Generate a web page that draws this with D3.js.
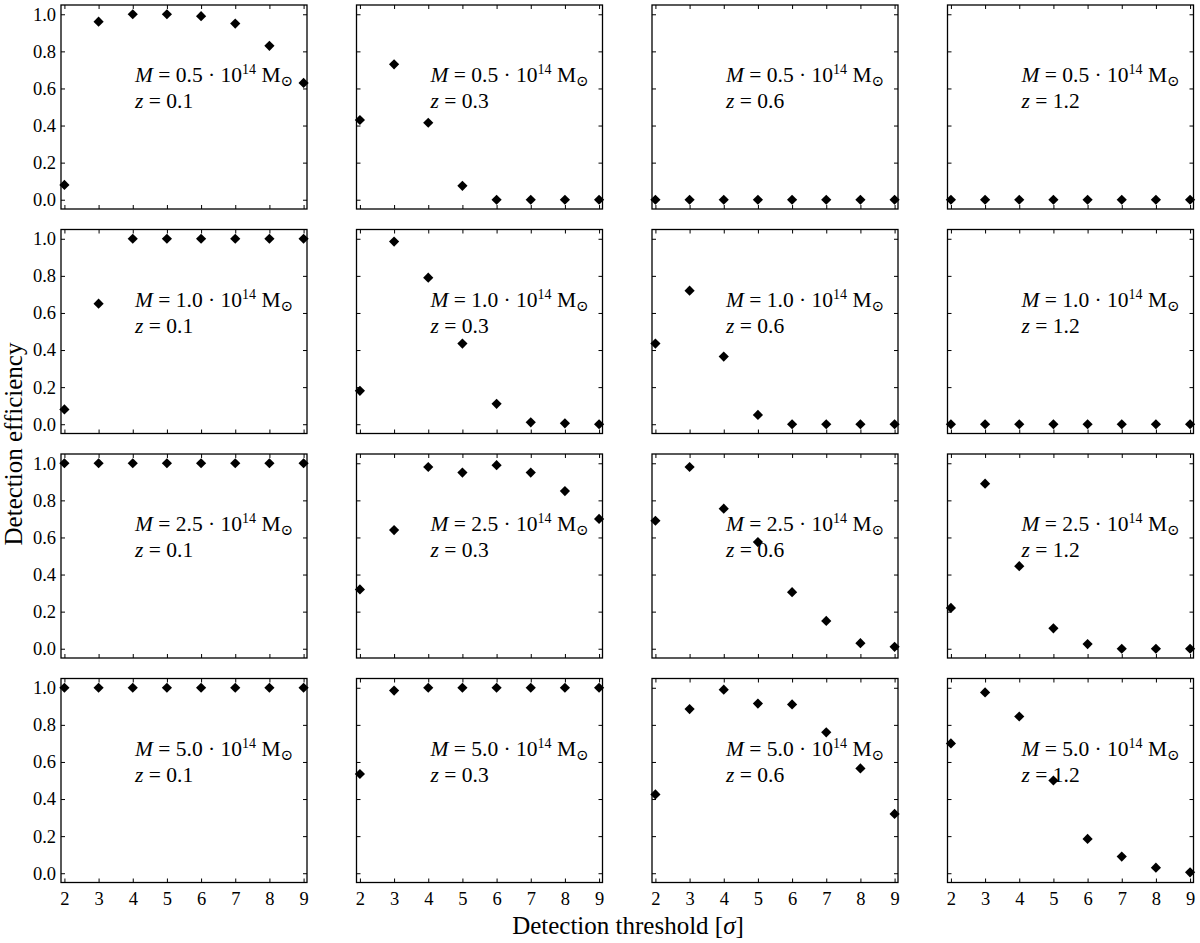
<!DOCTYPE html>
<html>
<head>
<meta charset="utf-8">
<script src="https://cdn.jsdelivr.net/npm/d3@7"></script>
<style>
  body { margin: 0; background: #fff; }
</style>
</head>
<body>
<div id="chart"></div>
<script>
// thresholds on the x axis (in sigma)
var thresholds = [2, 3, 4, 5, 6, 7, 8, 9];
var masses = ["0.5", "1.0", "2.5", "5.0"];      // rows, in 10^14 Msun
var redshifts = ["0.1", "0.3", "0.6", "1.2"];   // columns
var yTicks = [0.0, 0.2, 0.4, 0.6, 0.8, 1.0];

// detection efficiency, one list per redshift
var effM05 = [
  [0.08, 0.96, 1.00, 1.00, 0.99, 0.95, 0.83, 0.63],
  [0.43, 0.73, 0.415, 0.075, 0.0, 0.0, 0.0, 0.0],
  [0.0, 0.0, 0.0, 0.0, 0.0, 0.0, 0.0, 0.0],
  [0.0, 0.0, 0.0, 0.0, 0.0, 0.0, 0.0, 0.0]
];
var effM10 = [
  [0.08, 0.65, 1.00, 1.00, 1.00, 1.00, 1.00, 1.00],
  [0.18, 0.985, 0.79, 0.435, 0.11, 0.01, 0.005, 0.0],
  [0.435, 0.72, 0.365, 0.05, 0.0, 0.0, 0.0, 0.0],
  [0.0, 0.0, 0.0, 0.0, 0.0, 0.0, 0.0, 0.0]
];
var effM25 = [
  [1.00, 1.00, 1.00, 1.00, 1.00, 1.00, 1.00, 1.00],
  [0.32, 0.64, 0.98, 0.95, 0.99, 0.95, 0.85, 0.70],
  [0.69, 0.98, 0.755, 0.575, 0.305, 0.15, 0.03, 0.01],
  [0.22, 0.89, 0.445, 0.11, 0.025, 0.0, 0.0, 0.0]
];
var effM50 = [
  [1.00, 1.00, 1.00, 1.00, 1.00, 1.00, 1.00, 1.00],
  [0.535, 0.985, 1.00, 1.00, 1.00, 1.00, 1.00, 1.00],
  [0.425, 0.885, 0.99, 0.915, 0.91, 0.76, 0.565, 0.32],
  [0.70, 0.975, 0.845, 0.50, 0.185, 0.09, 0.03, 0.005]
];
var effByMass = [effM05, effM10, effM25, effM50];

var width = 1200, height = 943;
var left0 = 61, colStep = 295.5, pw = 246;
var top0 = 5, rowStep = 224.5, ph = 204;
var serif = '"Liberation Serif", "DejaVu Serif", serif';

var svg = d3.select("#chart").append("svg")
    .attr("width", width)
    .attr("height", height)
    .style("font-family", serif);

var x = d3.scaleLinear().domain([1.9, 9.1]).range([0, pw]);
var y = d3.scaleLinear().domain([-0.05, 1.05]).range([ph, 0]);

var diamond = d3.symbol().type(d3.symbolSquare).size(52);

function styleAxis(g) {
  g.attr("font-family", null).attr("font-size", null);
  g.select(".domain").remove();
  g.selectAll(".tick line").attr("stroke", "#000").attr("stroke-width", 1);
  g.selectAll(".tick text")
    .style("font-size", "18.5px")
    .style("font-family", serif)
    .attr("fill", "#000");
}

masses.forEach(function(m, r) {
  redshifts.forEach(function(z, c) {
    var g = svg.append("g")
        .attr("transform", "translate(" + (left0 + c * colStep) + "," + (top0 + r * rowStep) + ")");
    var vals = effByMass[r][c];

    // bottom axis
    g.append("g")
      .attr("transform", "translate(0," + ph + ")")
      .call(d3.axisBottom(x).tickValues(thresholds).tickSizeInner(-4).tickSizeOuter(0)
        .tickPadding(9).tickFormat(r === 3 ? d3.format("d") : ""))
      .call(styleAxis);
    // top axis
    g.append("g")
      .call(d3.axisTop(x).tickValues(thresholds).tickSizeInner(-4).tickSizeOuter(0).tickFormat(""))
      .call(styleAxis);
    // left axis
    g.append("g")
      .call(d3.axisLeft(y).tickValues(yTicks).tickSizeInner(-4).tickSizeOuter(0)
        .tickPadding(5).tickFormat(c === 0 ? d3.format(".1f") : ""))
      .call(styleAxis);
    // right axis
    g.append("g")
      .attr("transform", "translate(" + pw + ",0)")
      .call(d3.axisRight(y).tickValues(yTicks).tickSizeInner(-4).tickSizeOuter(0).tickFormat(""))
      .call(styleAxis);

    // frame
    g.append("rect")
      .attr("width", pw).attr("height", ph)
      .attr("fill", "none").attr("stroke", "#000").attr("stroke-width", 1.3);

    // annotation
    var t1 = g.append("text").attr("x", 74).attr("y", 77).style("font-size", "21.5px");
    t1.append("tspan").attr("font-style", "italic").text("M");
    t1.append("tspan").text(" = " + m + " \u00b7 10");
    t1.append("tspan").style("font-size", "14px").attr("dy", -8).text("14");
    t1.append("tspan").attr("dy", 8).text(" M");
    t1.append("tspan").style("font-size", "15px").attr("dy", 4).text("\u2299");
    var t2 = g.append("text").attr("x", 74).attr("y", 103).style("font-size", "21.5px");
    t2.append("tspan").attr("font-style", "italic").text("z");
    t2.append("tspan").text(" = " + z);

    // points
    g.selectAll("path.pt")
      .data(vals)
      .enter().append("path")
        .attr("class", "pt")
        .attr("d", diamond)
        .attr("fill", "#000")
        .attr("transform", function(d, i) {
          return "translate(" + x(thresholds[i]) + "," + y(d) + ") rotate(45)";
        });
  });
});

// axis titles
var xt = svg.append("text")
  .attr("x", 628).attr("y", 934)
  .attr("text-anchor", "middle")
  .style("font-size", "25px");
xt.append("tspan").text("Detection threshold [");
xt.append("tspan").attr("font-style", "italic").text("\u03c3");
xt.append("tspan").text("]");

svg.append("text")
  .attr("transform", "translate(22,444) rotate(-90)")
  .attr("text-anchor", "middle")
  .style("font-size", "25px")
  .text("Detection efficiency");
</script>
</body>
</html>
